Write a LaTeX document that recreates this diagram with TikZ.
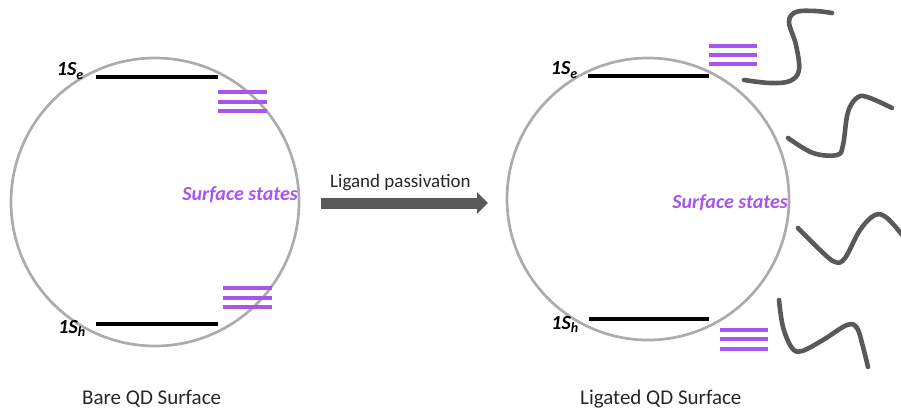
\documentclass[tikz,border=0pt]{standalone}
\usepackage{fontspec}
\setmainfont{Carlito}
\usetikzlibrary{arrows.meta}
\definecolor{ss}{RGB}{168,85,238}
\definecolor{lig}{RGB}{89,89,89}
\definecolor{ring}{RGB}{172,172,172}
\begin{document}
\begin{tikzpicture}[x=1pt,y=-1pt,
 qd/.style={circle,draw=ring,line width=2.7pt,inner sep=0pt},
 level/.style={line width=3.6pt,black},
 sslev/.style={line width=3.2pt,ss},
 ligand/.style={draw=lig,line width=4.6pt,line cap=round,line join=round},
 lab/.style={font=\fontsize{20}{24}\selectfont\bfseries\itshape,inner sep=0pt},
 arrtext/.style={font=\fontsize{19}{22}\selectfont,inner sep=0pt,text=black!85},
 captext/.style={font=\fontsize{21}{25}\selectfont,inner sep=0pt,text=black!85}]
\useasboundingbox (0,0) rectangle (901,409);

% quantum dots
\node[qd,minimum size=288pt] (bare) at (155,202) {};
\node[qd,minimum size=282pt] (ligd) at (648,199) {};

% band-edge levels
\draw[level] (96,77) -- (218,77);
\draw[level] (96,324) -- (218,324);
\draw[level] (588,76) -- (709,76);
\draw[level] (589,319) -- (709,319);

% surface-state levels
\foreach \y in {92,102,111} \draw[sslev] (218,\y) -- (267,\y);
\foreach \y in {288,298,307} \draw[sslev] (223,\y) -- (272,\y);
\foreach \y in {46,55,64} \draw[sslev] (709,\y) -- (757,\y);
\foreach \y in {330,339,349} \draw[sslev] (720,\y) -- (768,\y);

% level labels
\node[lab,anchor=base east] (seL) at (84,76) {1S\textsubscript{e}};
\node[lab,anchor=base east] (shL) at (86,333) {1S\textsubscript{h}};
\node[lab,anchor=base east] (seR) at (578,75) {1S\textsubscript{e}};
\node[lab,anchor=base east] (shR) at (579,329) {1S\textsubscript{h}};

\node[lab,text=ss,anchor=east] (ssL) at (298,195) {Surface states};
\node[lab,text=ss,anchor=east] (ssR) at (788,203) {Surface states};

% arrow
\coordinate (as) at (321,203);
\coordinate (ae) at (488,203);
\draw[lig,line width=11pt,-{Triangle[length=11pt,width=21pt]}] (as) -- (ae);
\node[arrtext,anchor=base west] (arrlab) at (330,187) {Ligand passivation};

% captions
\node[captext,anchor=base west] (capL) at (82,404.5) {Bare QD Surface};
\node[captext,anchor=base west] (capR) at (580,404.5) {Ligated QD Surface};

% ligands
\draw[ligand] plot[smooth,tension=0.6] coordinates {(744,80) (770,83) (790,81) (799,70) (796,45) (789,22) (796,12) (815,11) (832,13)};
\draw[ligand] plot[smooth,tension=0.6] coordinates {(788,138) (813,153) (837,155) (843,145) (848,112) (858,97) (870,98) (892,108)};
\draw[ligand] plot[smooth,tension=0.6] coordinates {(798,228) (820,250) (835,262) (845,258) (860,230) (875,215) (887,218) (903,236)};
\draw[ligand] plot[smooth,tension=0.6] coordinates {(779,300) (783,327) (792,348) (802,351) (823,340) (847,325) (857,328) (863,347) (868,367)};
\end{tikzpicture}
\end{document}
